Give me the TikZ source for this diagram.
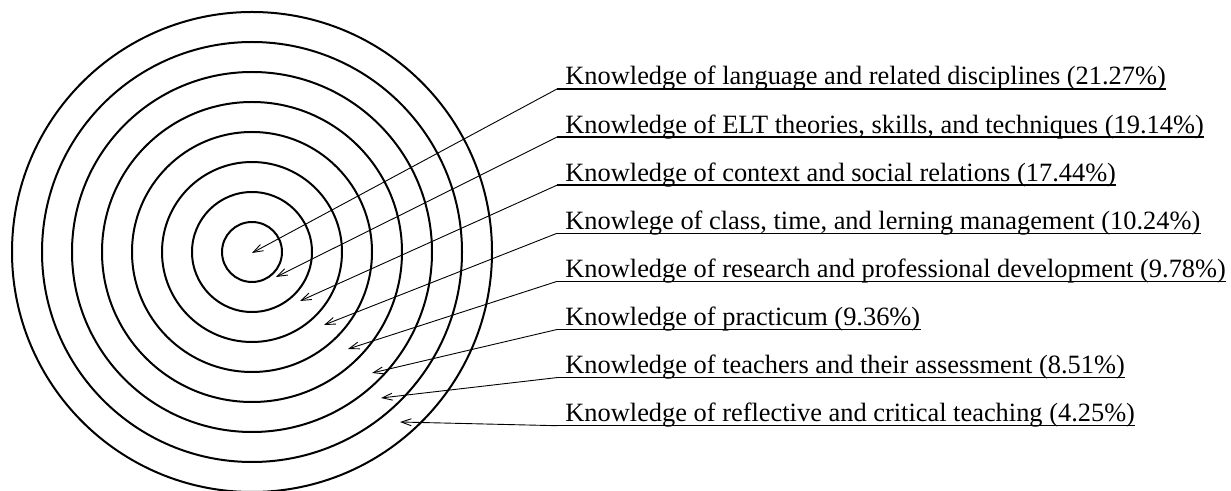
\documentclass[tikz,border=0pt]{standalone}
\usepackage{fontspec}
\setmainfont{Liberation Serif}
\usetikzlibrary{arrows.meta}
\usetikzlibrary{positioning}

\begin{document}
\begin{tikzpicture}[x=0.5pt,y=-0.5pt,node distance=24.05pt,on grid,
        ring/.style={draw, circle, line width=1pt, inner sep=0pt},
        lbl/.style={inner sep=0pt, anchor=base west, font=\fontsize{13.2pt}{15pt}\selectfont},
        uline/.style={line width=0.7pt},
        lead/.style={line width=0.45pt, -{Straight Barb[length=5pt,width=3.5pt]}}]
        \useasboundingbox (0,0) rectangle (1231,491);
        \coordinate (o) at (252,252);
        \node[ring, minimum size=30pt]  (c_1) at (o) {};
        \node[ring, minimum size=60pt]  (c_2) at (o) {};
        \node[ring, minimum size=90pt]  (c_3) at (o) {};
        \node[ring, minimum size=120pt] (c_4) at (o) {};
        \node[ring, minimum size=150pt] (c_5) at (o) {};
        \node[ring, minimum size=180pt] (c_6) at (o) {};
        \node[ring, minimum size=210pt] (c_7) at (o) {};
        \node[ring, minimum size=240pt] (c_8) at (o) {};
        % arrow tips
        \coordinate (t_1) at (252,253);
        \coordinate (t_2) at (276,277);
        \coordinate (t_3) at (300,301);
        \coordinate (t_4) at (324,325);
        \coordinate (t_5) at (348,349);
        \coordinate (t_6) at (372,373);
        \coordinate (t_7) at (381,398);
        \coordinate (t_8) at (400,422);
        % labels
        \node[lbl] (k_1) at (565,85) {Knowledge of language and related disciplines (21.27\%)};
        \node[lbl] (k_2) [below=of k_1.base west, anchor=base west] {Knowledge of ELT theories, skills, and techniques (19.14\%)};
        \node[lbl] (k_3) [below=of k_2.base west, anchor=base west] {Knowledge of context and social relations (17.44\%)};
        \node[lbl] (k_4) [below=of k_3.base west, anchor=base west] {Knowlege of class, time, and lerning management (10.24\%)};
        \node[lbl] (k_5) [below=of k_4.base west, anchor=base west] {Knowledge of research and professional development (9.78\%)};
        \node[lbl] (k_6) [below=of k_5.base west, anchor=base west] {Knowledge of practicum (9.36\%)};
        \node[lbl] (k_7) [below=of k_6.base west, anchor=base west] {Knowledge of teachers and their assessment (8.51\%)};
        \node[lbl] (k_8) [below=of k_7.base west, anchor=base west] {Knowledge of reflective and critical teaching (4.25\%)};
        \coordinate (u_1) at ([xshift=-4pt,yshift=-2pt]k_1.base west);
        \coordinate (u_2) at ([xshift=-4pt,yshift=-2pt]k_2.base west);
        \coordinate (u_3) at ([xshift=-4pt,yshift=-2pt]k_3.base west);
        \coordinate (u_4) at ([xshift=-4pt,yshift=-2pt]k_4.base west);
        \coordinate (u_5) at ([xshift=-4pt,yshift=-2pt]k_5.base west);
        \coordinate (u_6) at ([xshift=-4pt,yshift=-2pt]k_6.base west);
        \coordinate (u_7) at ([xshift=-4pt,yshift=-2pt]k_7.base west);
        \coordinate (u_8) at ([xshift=-4pt,yshift=-2pt]k_8.base west);
        \draw[uline] (u_1) -- (u_1 -| k_1.east);
        \draw[uline] (u_2) -- (u_2 -| k_2.east);
        \draw[uline] (u_3) -- (u_3 -| k_3.east);
        \draw[uline] (u_4) -- (u_4 -| k_4.east);
        \draw[uline] (u_5) -- (u_5 -| k_5.east);
        \draw[uline] (u_6) -- (u_6 -| k_6.east);
        \draw[uline] (u_7) -- (u_7 -| k_7.east);
        \draw[uline] (u_8) -- (u_8 -| k_8.east);
        \path[lead]
        (u_1) edge (t_1)
        (u_2) edge (t_2)
        (u_3) edge (t_3)
        (u_4) edge (t_4)
        (u_5) edge (t_5)
        (u_6) edge (t_6)
        (u_7) edge (t_7)
        (u_8) edge (t_8);
    \end{tikzpicture}
\end{document}
